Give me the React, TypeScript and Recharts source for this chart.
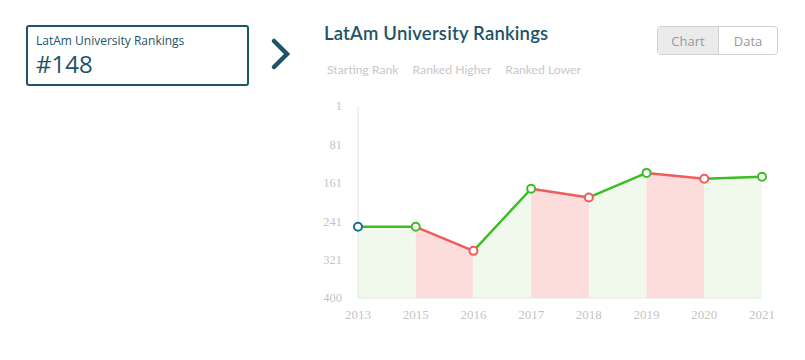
import { ComposedChart, Line, Area, XAxis, YAxis } from "recharts"

const years = ["2013", "2015", "2016", "2017", "2018", "2019", "2020", "2021"]
const ranks = [252, 252, 302, 173, 191, 140, 152, 148]
const yTicks = [1, 81, 161, 241, 321, 400]
const legendItems = ["Starting Rank", "Ranked Higher", "Ranked Lower"]

const GREEN = "#3cbd25"
const RED = "#f05b5b"
const BLUE = "#15709a"
const GREEN_FILL = "#f0f9ec"
const RED_FILL = "#fddcdc"
const TEAL = "#1d5468"

// segment i goes from year i to year i+1, green when rank stays or improves
const segUp = ranks.slice(1).map((r, i) => r <= ranks[i])

const data = years.map((year, i) => {
  const row: Record<string, any> = { year, rank: ranks[i] }
  segUp.forEach((_, s) => {
    row["s" + s] = i === s || i === s + 1 ? ranks[i] : null
  })
  return row
})

const dotColor = (i: number) => (i === 0 ? BLUE : segUp[i - 1] ? GREEN : RED)

const RankDot = (props: any) => {
  const { cx, cy, index } = props
  if (cx == null || cy == null) return null
  return <circle key={"d" + index} cx={cx} cy={cy} r={4} fill="#fff" stroke={dotColor(index)} strokeWidth={2} />
}

const App = () => {
  return (
    <div style={{ position: "absolute", left: 0, top: 0, width: 805, height: 360, background: "#fff" }}>
      <div
        style={{
          position: "absolute",
          left: 26,
          top: 25,
          width: 219,
          height: 57,
          border: `2px solid ${TEAL}`,
          borderRadius: 3,
          color: TEAL,
          fontFamily: "'Open Sans', sans-serif",
        }}
      >
        <div style={{ position: "absolute", left: 8, top: 5, fontSize: 12 }}>LatAm University Rankings</div>
        <div style={{ position: "absolute", left: 8, top: 20, fontSize: 24 }}>#148</div>
      </div>
      <svg style={{ position: "absolute", left: 265, top: 35 }} width={34} height={40}>
        <polyline points="9,6 22,19 9,32" fill="none" stroke={TEAL} strokeWidth={4.5} strokeLinecap="round" />
      </svg>

      <div
        style={{
          position: "absolute",
          left: 324,
          top: 22,
          fontSize: 18.5,
          fontWeight: 600,
          letterSpacing: 0.2,
          color: TEAL,
          fontFamily: "Lato, sans-serif",
        }}
      >
        LatAm University Rankings
      </div>
      <div style={{ position: "absolute", left: 327, top: 62, display: "flex", gap: 14, fontSize: 12.2, color: "#c8c8c8", fontFamily: "Lato, sans-serif" }}>
        {legendItems.map((t) => (
          <span key={t}>{t}</span>
        ))}
      </div>

      <div
        style={{
          position: "absolute",
          left: 657,
          top: 26,
          width: 119,
          height: 27,
          border: "1px solid #d0d0d0",
          borderRadius: 4,
          display: "flex",
          overflow: "hidden",
          fontFamily: "'Open Sans', sans-serif",
          fontSize: 13,
          color: "#999",
        }}
      >
        <div style={{ width: 60, background: "#ebebeb", borderRight: "1px solid #d0d0d0", display: "flex", alignItems: "center", justifyContent: "center" }}>
          Chart
        </div>
        <div style={{ flex: 1, display: "flex", alignItems: "center", justifyContent: "center" }}>Data</div>
      </div>

      <div style={{ position: "absolute", left: 300, top: 90 }}>
        <ComposedChart width={480} height={240} data={data} margin={{ top: 16, right: 18, bottom: 2, left: 0 }}>
          <XAxis
            dataKey="year"
            axisLine={{ stroke: "#e6e6e6" }}
            tickLine={false}
            tickMargin={6}
            height={30}
            tick={{ fill: "#c4c4c4", fontSize: 13, fontFamily: "'Liberation Serif', serif" }}
          />
          <YAxis
            type="number"
            domain={[1, 400]}
            ticks={yTicks}
            reversed
            width={58}
            axisLine={{ stroke: "#e2e2e2" }}
            tickLine={false}
            tickMargin={10}
            tick={{ fill: "#c4c4c4", fontSize: 12.5, fontFamily: "'Liberation Serif', serif" }}
          />
          {segUp.map((up, s) => (
            <Area
              key={"a" + s}
              dataKey={"s" + s}
              type="linear"
              baseValue="dataMax"
              stroke="none"
              fill={up ? GREEN_FILL : RED_FILL}
              fillOpacity={1}
              dot={false}
              activeDot={false}
              isAnimationActive={false}
            />
          ))}
          {segUp.map((up, s) => (
            <Line
              key={"l" + s}
              dataKey={"s" + s}
              type="linear"
              stroke={up ? GREEN : RED}
              strokeWidth={2.5}
              dot={false}
              activeDot={false}
              isAnimationActive={false}
            />
          ))}
          <Line dataKey="rank" type="linear" stroke="none" dot={RankDot} activeDot={false} isAnimationActive={false} />
        </ComposedChart>
      </div>
    </div>
  )
}

export default App
